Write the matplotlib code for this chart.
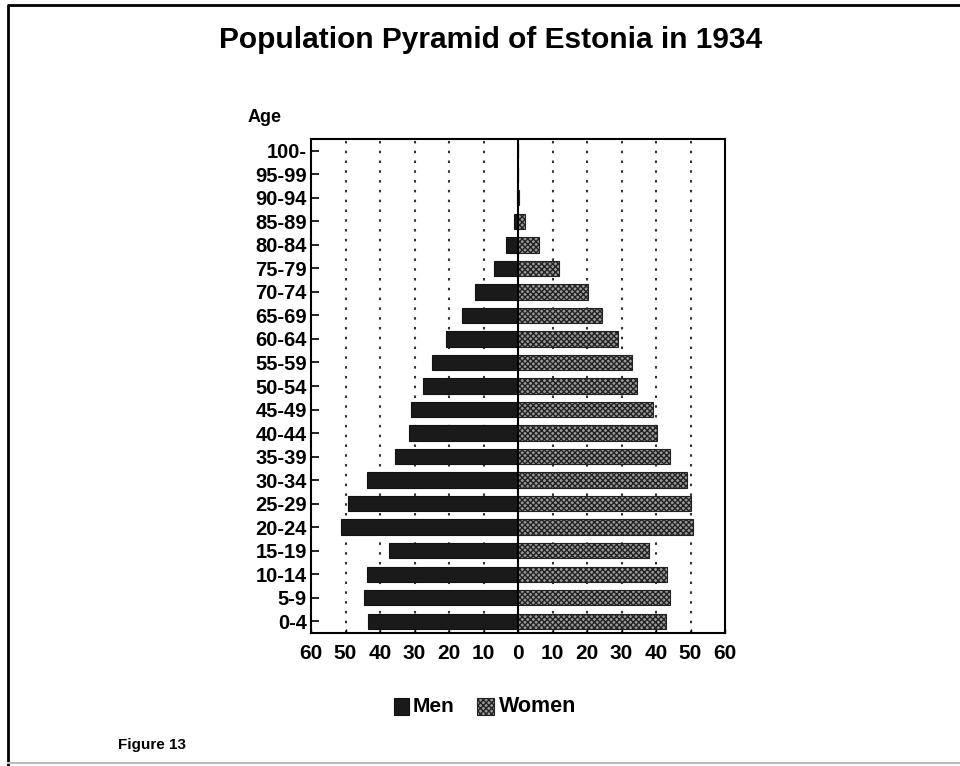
import matplotlib
matplotlib.use('Agg')
import matplotlib.pyplot as plt
from matplotlib.patches import Rectangle
from matplotlib.lines import Line2D

plt.rcParams['font.family'] = ['Liberation Sans', 'DejaVu Sans']
plt.rcParams['hatch.linewidth'] = 1.0

# ---------------------------------------------------------------- #
# data (thousands)
# ---------------------------------------------------------------- #
ages = ['0-4', '5-9', '10-14', '15-19', '20-24', '25-29', '30-34', '35-39',
        '40-44', '45-49', '50-54', '55-59', '60-64', '65-69', '70-74',
        '75-79', '80-84', '85-89', '90-94', '95-99', '100-']
men = [43.6, 44.7, 43.8, 37.5, 51.4, 49.2, 43.7, 35.7, 31.7, 30.9, 27.5,
       24.9, 21.0, 16.2, 12.5, 7.0, 3.4, 1.1, 0.3, 0.0, 0.0]
women = [42.9, 44.2, 43.1, 38.0, 50.8, 50.2, 49.0, 44.2, 40.4, 39.1, 34.6,
         32.9, 29.0, 24.3, 20.2, 11.9, 6.0, 1.9, 0.4, 0.0, 0.0]
xticks = [-60, -50, -40, -30, -20, -10, 0, 10, 20, 30, 40, 50, 60]

fig = plt.figure(figsize=(9.6, 7.66), dpi=100)
W, H = 960, 766
ax = fig.add_axes([311 / W, 1 - 633 / H, 414 / W, 494 / H])

y = list(range(len(ages)))
ax.barh(y, [-m for m in men], height=0.65, color='#1a1a1a', edgecolor='#111111', linewidth=0.8, zorder=3)
ax.barh(y, women, height=0.65, color='#9a9a9a', edgecolor='#222222', hatch='xxxxxx', linewidth=0.8, zorder=3)

for g in [-50, -40, -30, -20, -10, 10, 20, 30, 40, 50]:
    ax.axvline(g, color='#333333', linestyle=(0, (1.2, 3.5)), linewidth=1.5, zorder=1)
ax.axvline(0, color='black', linewidth=1.5, zorder=4)

ax.set_xlim(-60, 60)
ax.set_ylim(-0.5, len(ages) - 0.5)
ax.set_yticks(y)
ax.set_yticklabels(ages, fontsize=14.5, fontweight='bold')
ax.set_xticks(xticks)
ax.set_xticklabels([str(abs(t)) for t in xticks], fontsize=15, fontweight='bold')
ax.tick_params(axis='y', direction='in', length=6, width=1.2, pad=3)
ax.tick_params(axis='x', direction='in', length=3, width=1, pad=8)
for s in ax.spines.values():
    s.set_linewidth(1.5)

fig.text(248 / W, 1 - 118 / H, 'Age', fontsize=13, fontweight='bold', ha='left', va='center')
fig.text(491 / W, 1 - 40 / H, 'Population Pyramid of Estonia in 1934', fontsize=21.5, fontweight='bold',
         ha='center', va='center')
fig.text(118 / W, 1 - 745 / H, 'Figure 13', fontsize=11, fontweight='bold', ha='left', va='center')

# legend
fig.patches.append(Rectangle((394 / W, 1 - 715 / H), 15 / W, 17 / H, transform=fig.transFigure,
                             facecolor='#1a1a1a', edgecolor='#111111', lw=0.8))
fig.text(413 / W, 1 - 707 / H, 'Men', fontsize=15, fontweight='bold', ha='left', va='center')
fig.patches.append(Rectangle((477 / W, 1 - 715 / H), 17 / W, 17 / H, transform=fig.transFigure,
                             facecolor='#9a9a9a', edgecolor='#222222', hatch='xxxxxx', lw=0.8))
fig.text(499 / W, 1 - 707 / H, 'Women', fontsize=15.5, fontweight='bold', ha='left', va='center')

# page frame
fig.lines.append(Line2D([8 / W, 8 / W, 1], [0, 1 - 5 / H, 1 - 5 / H], transform=fig.transFigure,
                        color='black', lw=2))
fig.lines.append(Line2D([8 / W, 1], [1 - 763 / H, 1 - 763 / H], transform=fig.transFigure,
                        color='#bbbbbb', lw=1.5))

fig.savefig('out.png', dpi=100)
